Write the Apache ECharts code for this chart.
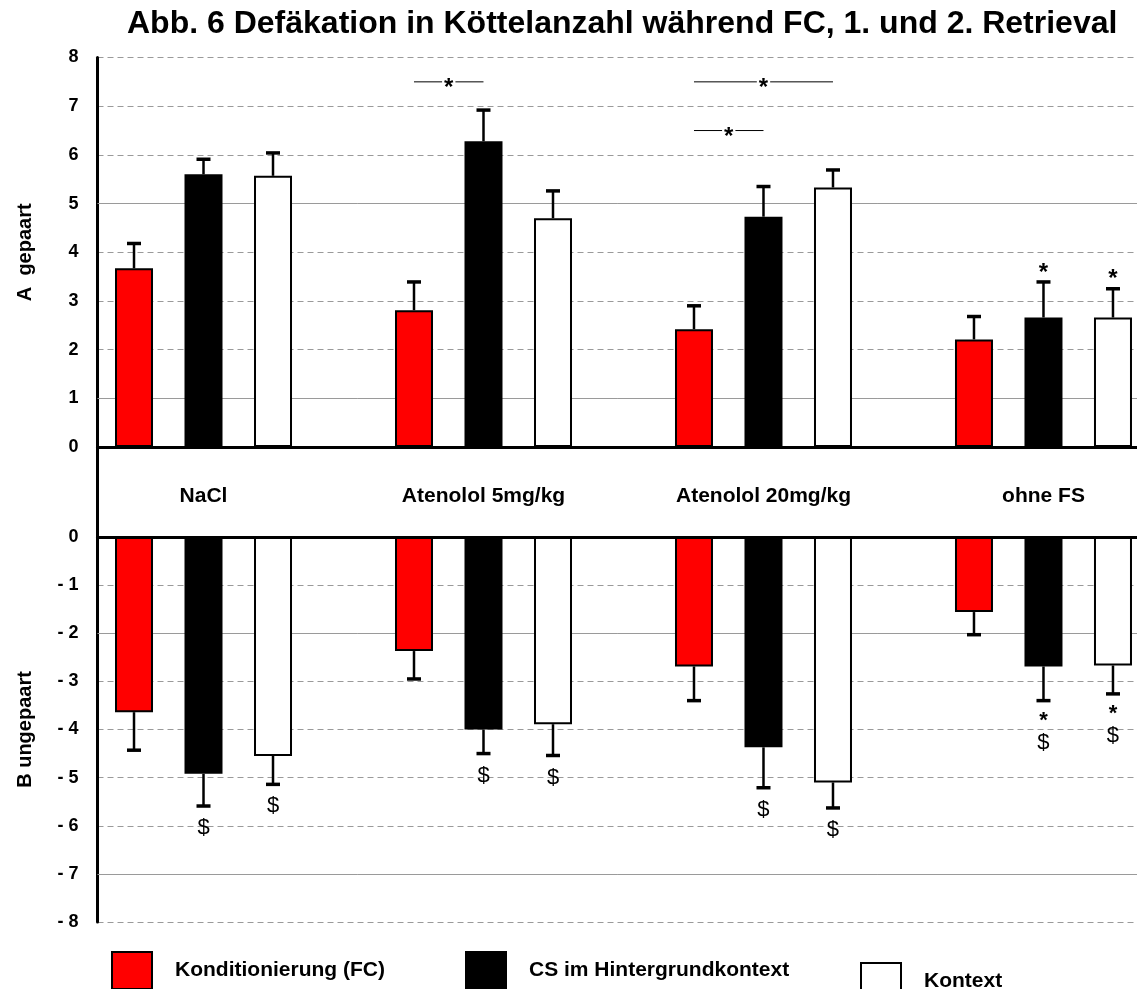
<!DOCTYPE html>
<html>
<head>
<meta charset="utf-8">
<script src="https://cdn.jsdelivr.net/npm/echarts@6/dist/echarts.min.js"></script>
<style>
  html, body { margin: 0; padding: 0; background: #fff; }
  #chart { width: 1137px; height: 989px; }
</style>
</head>
<body>
<div id="chart"></div>
<script>
// ---- data ----
const categories = ['NaCl', 'Atenolol 5mg/kg', 'Atenolol 20mg/kg', 'ohne FS'];
const seriesNames = ['Konditionierung (FC)', 'CS im Hintergrundkontext', 'Kontext'];

// A: gepaart – means and SEM
const pairedFC = [3.67, 2.81, 2.42, 2.21];
const pairedCS = [5.60, 6.28, 4.73, 2.66];
const pairedCtx = [5.57, 4.70, 5.33, 2.66];
const pairedFCErr = [0.51, 0.58, 0.48, 0.47];
const pairedCSErr = [0.31, 0.64, 0.62, 0.73];
const pairedCtxErr = [0.47, 0.56, 0.36, 0.59];

// B: ungepaart – means and SEM
const unpairedFC = [-3.64, -2.37, -2.69, -1.56];
const unpairedCS = [-4.92, -4.00, -4.37, -2.69];
const unpairedCtx = [-4.55, -3.89, -5.10, -2.67];
const unpairedFCErr = [0.79, 0.58, 0.71, 0.47];
const unpairedCSErr = [0.67, 0.50, 0.84, 0.71];
const unpairedCtxErr = [0.59, 0.65, 0.53, 0.59];

// marks at the error bars, per category and series
const pairedMarks = [[[], [], []], [[], [], []], [[], [], []], [[], ['*'], ['*']]];
const unpairedMarks = [[[], ['$'], ['$']], [[], ['$'], ['$']], [[], ['$'], ['$']], [[], ['*', '$'], ['*', '$']]];

// significance brackets: [category, from series, to series, height]
const brackets = [[1, 0, 1, 7.5], [2, 0, 2, 7.5], [2, 0, 1, 6.5]];

// tick labels
const topTickLabels = ['0', '1', '2', '3', '4', '5', '6', '7', '8'];
const bottomTickLabels = ['- 8', '- 7', '- 6', '- 5', '- 4', '- 3', '- 2', '- 1', '0'];

// gridlines drawn solid instead of dashed
const topSolidLines = [1, 5];
const bottomSolidLines = [-2, -7];

// ---- layout ----
const FONT = "'Liberation Sans', Arial, Helvetica, sans-serif";
const BAR_W = 38;
const BAR_GAP = 31.5;
const BAR_STEP = BAR_W + BAR_GAP;
const CAP_W = 14;
const AXIS_X = 97.5;
const X_MIN = -0.3786;
const X_MAX = 3.334;
const colors = ['#ff0000', '#000000', '#ffffff'];
const GRID_COLOR = '#9a9a9a';

function errorRows(means, errs) {
  const rows = [];
  categories.forEach((c, i) => {
    means.forEach((arr, k) => rows.push([i, k, arr[i], errs[k][i]]));
  });
  return rows;
}

function textEl(x, y, text, size, weight) {
  return {
    type: 'text', x: x, y: y,
    style: {
      text: text, fill: '#000', fontSize: size, fontWeight: weight, fontFamily: FONT,
      align: 'center', verticalAlign: 'middle'
    }
  };
}

function errorRenderer(marks, dir) {
  return function (params, api) {
    const i = api.value(0), k = api.value(1), v = api.value(2), e = api.value(3);
    const base = api.coord([i, v]);
    const tip = api.coord([i, v + dir * e]);
    const x = base[0] + (k - 1) * BAR_STEP;
    const children = [
      { type: 'line', shape: { x1: x, y1: base[1], x2: x, y2: tip[1] }, style: { stroke: '#000', lineWidth: 2.5 } },
      { type: 'line', shape: { x1: x - CAP_W / 2, y1: tip[1], x2: x + CAP_W / 2, y2: tip[1] }, style: { stroke: '#000', lineWidth: 3.5 } }
    ];
    const m = marks[i][k];
    const hasStar = m.indexOf('*') >= 0;
    m.forEach(function (sym) {
      if (dir > 0) {
        children.push(textEl(x, tip[1] - 9, sym, 24, 'bold'));
      } else if (sym === '*') {
        children.push(textEl(x, tip[1] + 20, sym, 22, 'bold'));
      } else {
        children.push(textEl(x, tip[1] + (hasStar ? 42 : 22), sym, 22, 'normal'));
      }
    });
    return { type: 'group', children: children };
  };
}

function bracketRenderer(params, api) {
  const i = api.value(0), a = api.value(1), b = api.value(2), h = api.value(3);
  const p = api.coord([i, h]);
  const x1 = p[0] + (a - 1) * BAR_STEP;
  const x2 = p[0] + (b - 1) * BAR_STEP;
  return {
    type: 'group',
    children: [
      { type: 'line', shape: { x1: x1, y1: p[1], x2: x2, y2: p[1] }, style: { stroke: '#000', lineWidth: 1 } },
      {
        type: 'text', x: (x1 + x2) / 2, y: p[1] + 7,
        style: {
          text: '*', fill: '#000', fontSize: 24, fontWeight: 'bold', fontFamily: FONT,
          align: 'center', verticalAlign: 'middle', backgroundColor: '#fff', padding: [0, 2]
        }
      }
    ]
  };
}

// group names sit in the band between the two panels, below the zero line of panel A
function categoryRenderer(params, api) {
  const p = api.coord([api.value(0), 0]);
  return textEl(p[0], p[1] + 49, categories[params.dataIndex], 21, 'bold');
}

function barSeries(name, values, gridIdx, k, solidLines) {
  const s = {
    type: 'bar', name: name,
    xAxisIndex: gridIdx, yAxisIndex: gridIdx,
    data: values.map((v, i) => [i, v]),
    barWidth: BAR_W,
    barGap: (BAR_GAP / BAR_W * 100) + '%',
    itemStyle: { color: colors[k], borderColor: '#000', borderWidth: k === 1 ? 0 : 2 },
    silent: true, z: 2
  };
  if (solidLines) {
    s.markLine = {
      silent: true, symbol: 'none', z: 1, label: { show: false },
      lineStyle: { color: GRID_COLOR, type: 'solid', width: 1 },
      data: solidLines.map(v => ({ yAxis: v }))
    };
  }
  return s;
}

function yAxis(gridIdx, min, max, labels, name) {
  return {
    gridIndex: gridIdx, type: 'value', min: min, max: max, interval: 1,
    name: name, nameLocation: 'middle', nameGap: 62,
    nameTextStyle: { fontSize: 20, fontWeight: 'bold', color: '#000', fontFamily: FONT },
    axisLine: { show: true, onZero: false, lineStyle: { color: '#000', width: 3 } },
    axisTick: { show: false },
    axisLabel: {
      margin: 19, fontSize: 18, fontWeight: 'bold', color: '#000', fontFamily: FONT,
      formatter: v => labels[Math.round(v - min)]
    },
    splitLine: { show: true, lineStyle: { color: GRID_COLOR, type: [6, 4], width: 1 } }
  };
}

function xAxis(gridIdx) {
  return {
    gridIndex: gridIdx, type: 'value', min: X_MIN, max: X_MAX,
    axisLine: { show: true, onZero: true, lineStyle: { color: '#000', width: 3 } },
    axisTick: { show: false }, axisLabel: { show: false }, splitLine: { show: false }
  };
}

function legend(idx, left, top) {
  return {
    data: [seriesNames[idx]], left: left, top: top, padding: 0,
    icon: 'rect', itemWidth: 40, itemHeight: 37, selectedMode: false,
    itemStyle: { borderColor: '#000', borderWidth: 2 },
    textStyle: { fontSize: 21, fontWeight: 'bold', color: '#000', fontFamily: FONT, padding: [0, 0, 0, 18] }
  };
}

const chart = echarts.init(document.getElementById('chart'), null, { renderer: 'canvas' });

chart.setOption({
  animation: false,
  backgroundColor: '#fff',
  textStyle: { fontFamily: FONT },
  title: {
    text: 'Abb. 6 Defäkation in Köttelanzahl während FC, 1. und 2. Retrieval',
    left: 127, top: 8, padding: 0,
    textStyle: { fontSize: 32, fontWeight: 'bold', color: '#000', fontFamily: FONT }
  },
  legend: [legend(0, 111, 951), legend(1, 465, 951), legend(2, 860, 962)],
  grid: [
    { left: AXIS_X, right: 0, top: 57.5, height: 389.5, outerBoundsMode: 'none' },
    { left: AXIS_X, right: 0, top: 537, height: 385, outerBoundsMode: 'none' }
  ],
  xAxis: [xAxis(0), xAxis(1)],
  yAxis: [
    yAxis(0, 0, 8, topTickLabels, 'A  gepaart'),
    yAxis(1, -8, 0, bottomTickLabels, 'B ungepaart')
  ],
  graphic: [
    { type: 'line', shape: { x1: AXIS_X, y1: 447, x2: AXIS_X, y2: 537 }, style: { stroke: '#000', lineWidth: 3 }, z: 10 }
  ],
  series: [
    barSeries(seriesNames[0], pairedFC, 0, 0, topSolidLines),
    barSeries(seriesNames[1], pairedCS, 0, 1),
    barSeries(seriesNames[2], pairedCtx, 0, 2),
    barSeries(seriesNames[0], unpairedFC, 1, 0, bottomSolidLines),
    barSeries(seriesNames[1], unpairedCS, 1, 1),
    barSeries(seriesNames[2], unpairedCtx, 1, 2),
    {
      type: 'custom', name: 'Fehler A', xAxisIndex: 0, yAxisIndex: 0, z: 3, silent: true, clip: false,
      encode: { x: 0, y: 2 },
      data: errorRows([pairedFC, pairedCS, pairedCtx], [pairedFCErr, pairedCSErr, pairedCtxErr]),
      renderItem: errorRenderer(pairedMarks, 1)
    },
    {
      type: 'custom', name: 'Fehler B', xAxisIndex: 1, yAxisIndex: 1, z: 3, silent: true, clip: false,
      encode: { x: 0, y: 2 },
      data: errorRows([unpairedFC, unpairedCS, unpairedCtx], [unpairedFCErr, unpairedCSErr, unpairedCtxErr]),
      renderItem: errorRenderer(unpairedMarks, -1)
    },
    {
      type: 'custom', name: 'Signifikanz', xAxisIndex: 0, yAxisIndex: 0, z: 3, silent: true, clip: false,
      encode: { x: 0, y: 3 },
      data: brackets,
      renderItem: bracketRenderer
    },
    {
      type: 'custom', name: 'Gruppen', xAxisIndex: 0, yAxisIndex: 0, z: 3, silent: true, clip: false,
      encode: { x: 0, y: 1 },
      data: categories.map((c, i) => [i, 0]),
      renderItem: categoryRenderer
    }
  ]
});
</script>
</body>
</html>
